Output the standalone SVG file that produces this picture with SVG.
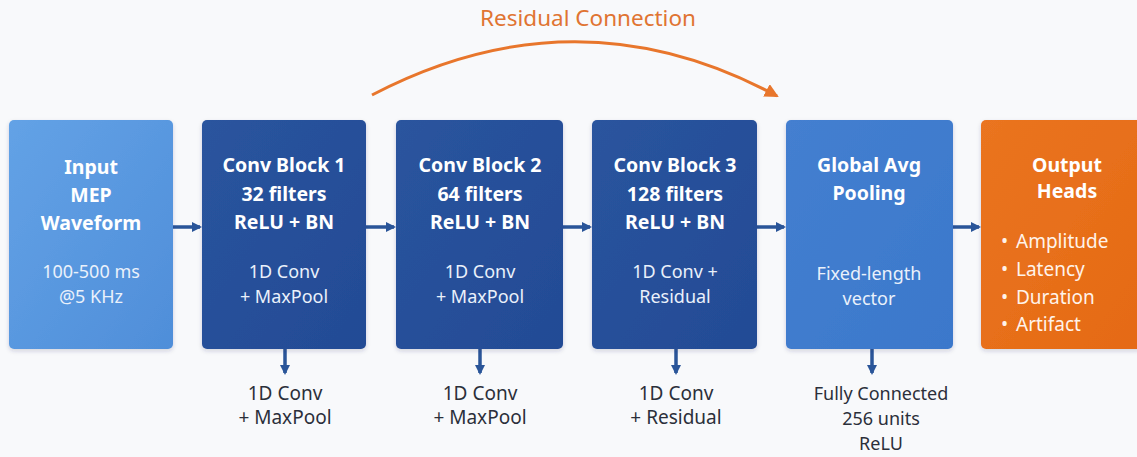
<svg xmlns="http://www.w3.org/2000/svg" width="1137" height="457" viewBox="0 0 1137 457">
<defs>
<linearGradient id="gIn" x1="0" y1="0" x2="1" y2="1"><stop offset="0" stop-color="#63a2e6"/><stop offset="1" stop-color="#4f8ed9"/></linearGradient>
<linearGradient id="gConv" x1="0" y1="0" x2="1" y2="1"><stop offset="0" stop-color="#2a549e"/><stop offset="1" stop-color="#234b95"/></linearGradient>
<linearGradient id="gGap" x1="0" y1="0" x2="1" y2="1"><stop offset="0" stop-color="#447fd0"/><stop offset="1" stop-color="#3b78cb"/></linearGradient>
<linearGradient id="gOut" x1="0" y1="0" x2="1" y2="1"><stop offset="0" stop-color="#ea7420"/><stop offset="1" stop-color="#e56a14"/></linearGradient>
<filter id="sh" x="-10%" y="-10%" width="120%" height="120%"><feDropShadow dx="0" dy="2" stdDeviation="2" flood-color="#1a2a50" flood-opacity="0.18"/></filter>
<marker id="ah" markerWidth="10" markerHeight="10" refX="8" refY="5" orient="auto" markerUnits="userSpaceOnUse"><path d="M0,0 L10,5 L0,10 z" fill="#2a5599"/></marker>
<marker id="ahO" markerWidth="14" markerHeight="14" refX="12" refY="7" orient="auto" markerUnits="userSpaceOnUse"><path d="M0,0 L14,7 L0,14 z" fill="#e8762c"/></marker>
</defs>
<style>
.t{font-family:"Noto Sans","Open Sans","DejaVu Sans",sans-serif;fill:#ffffff;text-anchor:middle}
.b{font-weight:700;font-size:19.5px}
.s{font-size:18px;fill:#eaf1fb}
.l{font-family:"Noto Sans","Open Sans","DejaVu Sans",sans-serif;font-size:19px;fill:#2b2f3a;text-anchor:middle}
.f{font-size:18px}
.bl{font-family:"Noto Sans","Open Sans","DejaVu Sans",sans-serif;font-size:19px;fill:#fff3ea}
.c{stroke:#2a5599;stroke-width:3.5;fill:none}
</style>
<rect width="1137" height="457" fill="#f8f9fb"/>

<g id="connectors">
<line class="c" x1="173" y1="227" x2="200" y2="227" marker-end="url(#ah)"/>
<line class="c" x1="366" y1="227" x2="394" y2="227" marker-end="url(#ah)"/>
<line class="c" x1="563" y1="227" x2="590" y2="227" marker-end="url(#ah)"/>
<line class="c" x1="757" y1="227" x2="784" y2="227" marker-end="url(#ah)"/>
<line class="c" x1="953" y1="227" x2="979" y2="227" marker-end="url(#ah)"/>
<line class="c" x1="285" y1="349" x2="285" y2="373" marker-end="url(#ah)"/>
<line class="c" x1="480" y1="349" x2="480" y2="373" marker-end="url(#ah)"/>
<line class="c" x1="676" y1="349" x2="676" y2="373" marker-end="url(#ah)"/>
<line class="c" x1="872" y1="349" x2="872" y2="373" marker-end="url(#ah)"/>
<path d="M372,95 Q577,-12 777,96" stroke="#e8762c" stroke-width="3" fill="none" marker-end="url(#ahO)"/>
<text x="588" y="26" font-family="Noto Sans,Open Sans,sans-serif" font-size="22.5" fill="#e07432" text-anchor="middle">Residual Connection</text>
</g>

<g id="input">
<rect x="9" y="120" width="164" height="229" rx="5" fill="url(#gIn)" filter="url(#sh)"/>
<text class="t b" x="91" y="174">Input</text>
<text class="t b" x="91" y="202">MEP</text>
<text class="t b" x="91" y="230">Waveform</text>
<text class="t s" x="91" y="278">100-500 ms</text>
<text class="t s" x="91" y="303">@5 KHz</text>
</g>

<g id="conv1">
<rect x="202" y="120" width="164" height="229" rx="5" fill="url(#gConv)" filter="url(#sh)"/>
<text class="t b" x="284" y="172">Conv Block 1</text>
<text class="t b" x="284" y="201">32 filters</text>
<text class="t b" x="284" y="229">ReLU + BN</text>
<text class="t s" x="284" y="278">1D Conv</text>
<text class="t s" x="284" y="303">+ MaxPool</text>
</g>

<g id="conv2">
<rect x="396" y="120" width="167" height="229" rx="5" fill="url(#gConv)" filter="url(#sh)"/>
<text class="t b" x="480" y="172">Conv Block 2</text>
<text class="t b" x="480" y="201">64 filters</text>
<text class="t b" x="480" y="229">ReLU + BN</text>
<text class="t s" x="480" y="278">1D Conv</text>
<text class="t s" x="480" y="303">+ MaxPool</text>
</g>

<g id="conv3">
<rect x="592" y="120" width="165" height="229" rx="5" fill="url(#gConv)" filter="url(#sh)"/>
<text class="t b" x="675" y="172">Conv Block 3</text>
<text class="t b" x="675" y="201">128 filters</text>
<text class="t b" x="675" y="229">ReLU + BN</text>
<text class="t s" x="675" y="278">1D Conv +</text>
<text class="t s" x="675" y="303">Residual</text>
</g>

<g id="gap">
<rect x="786" y="120" width="167" height="229" rx="5" fill="url(#gGap)" filter="url(#sh)"/>
<text class="t b" x="869" y="172">Global Avg</text>
<text class="t b" x="869" y="200">Pooling</text>
<text class="t s" x="869" y="280">Fixed-length</text>
<text class="t s" x="869" y="305">vector</text>
</g>

<g id="output">
<rect x="981" y="120" width="162" height="229" rx="5" fill="url(#gOut)" filter="url(#sh)"/>
<text class="t b" x="1067" y="172">Output</text>
<text class="t b" x="1067" y="198">Heads</text>
<text class="bl" x="1001" y="248">•</text><text class="bl" x="1016" y="248">Amplitude</text>
<text class="bl" x="1001" y="276">•</text><text class="bl" x="1016" y="276">Latency</text>
<text class="bl" x="1001" y="304">•</text><text class="bl" x="1016" y="304">Duration</text>
<text class="bl" x="1001" y="331">•</text><text class="bl" x="1016" y="331">Artifact</text>
</g>

<g id="label1"><text class="l" x="285" y="400">1D Conv</text><text class="l" x="285" y="424">+ MaxPool</text></g>
<g id="label2"><text class="l" x="480" y="400">1D Conv</text><text class="l" x="480" y="424">+ MaxPool</text></g>
<g id="label3"><text class="l" x="676" y="400">1D Conv</text><text class="l" x="676" y="424">+ Residual</text></g>
<g id="label4"><text class="l f" x="881" y="400">Fully Connected</text><text class="l f" x="881" y="425">256 units</text><text class="l f" x="881" y="450">ReLU</text></g>
</svg>
